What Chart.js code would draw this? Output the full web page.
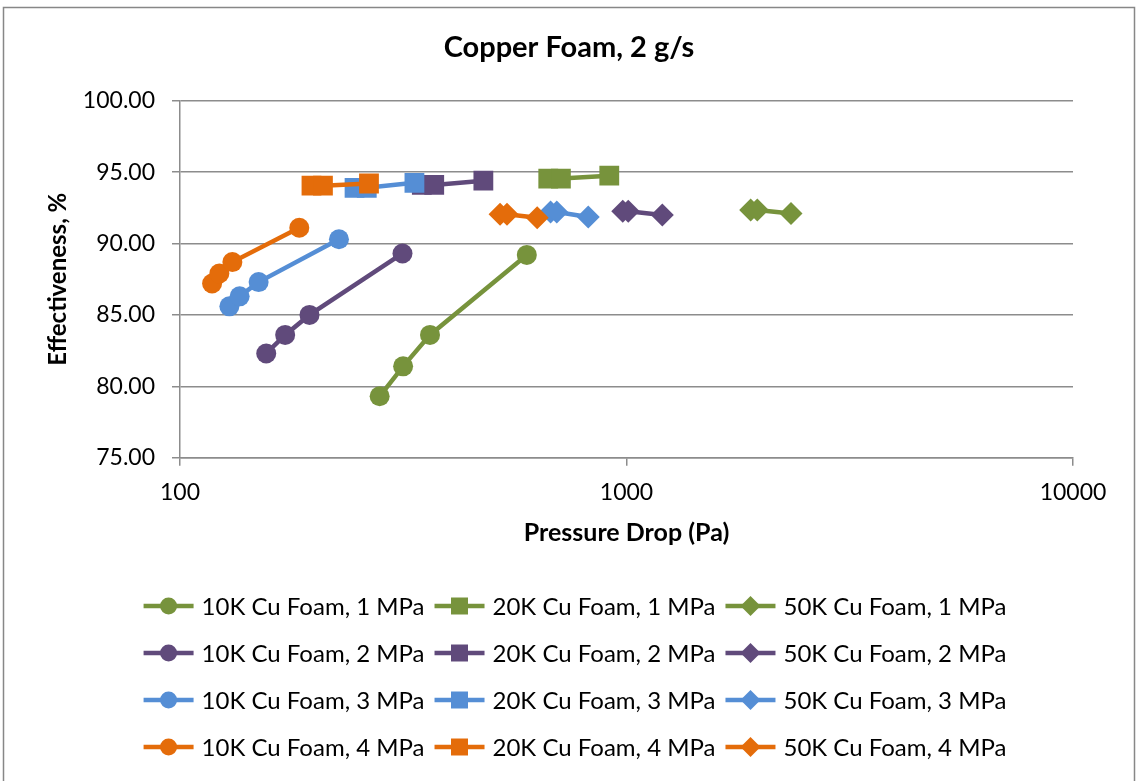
<!DOCTYPE html>
<html>
<head>
<meta charset="utf-8">
<script src="https://cdn.jsdelivr.net/npm/chart.js@4.4.1/dist/chart.umd.min.js"></script>
<style>
  html, body { margin: 0; padding: 0; background: #fff; }
  canvas { display: block; }
</style>
</head>
<body>
<canvas id="chart" width="1138" height="781"></canvas>
<script>
// ---- Text ----
const chartTitle = 'Copper Foam, 2 g/s';
const xAxisTitle = 'Pressure Drop (Pa)';
const yAxisTitle = 'Effectiveness, %';

// ---- Tick labels ----
const xTickValues = [100, 1000, 10000];
const yTickValues = [75, 80, 85, 90, 95, 100];

// ---- Categories ----
const foamGrades = ['10K Cu Foam', '20K Cu Foam', '50K Cu Foam'];
const pressures = ['1 MPa', '2 MPa', '3 MPa', '4 MPa'];

// ---- Measurements: pressure drop (Pa) and effectiveness (%) ----
const dp_10K_1MPa  = [280, 316, 363, 598];
const eff_10K_1MPa = [79.3, 81.4, 83.6, 89.2];
const dp_20K_1MPa  = [668, 713, 915];
const eff_20K_1MPa = [94.55, 94.55, 94.75];
const dp_50K_1MPa  = [1897, 1963, 2336];
const eff_50K_1MPa = [92.35, 92.35, 92.1];

const dp_10K_2MPa  = [156, 172, 195, 315];
const eff_10K_2MPa = [82.3, 83.6, 85.0, 89.3];
const dp_20K_2MPa  = [348, 371, 478];
const eff_20K_2MPa = [94.1, 94.1, 94.4];
const dp_50K_2MPa  = [981, 1009, 1203];
const eff_50K_2MPa = [92.25, 92.25, 92.0];

const dp_10K_3MPa  = [129, 136, 150, 227];
const eff_10K_3MPa = [85.6, 86.3, 87.3, 90.3];
const dp_20K_3MPa  = [246, 262, 335];
const eff_20K_3MPa = [93.9, 93.9, 94.25];
const dp_50K_3MPa  = [676, 698, 821];
const eff_50K_3MPa = [92.2, 92.2, 91.86];

const dp_10K_4MPa  = [118, 122.5, 131, 185];
const eff_10K_4MPa = [87.2, 87.9, 88.7, 91.1];
const dp_20K_4MPa  = [197, 209, 265];
const eff_20K_4MPa = [94.05, 94.05, 94.2];
const dp_50K_4MPa  = [521, 540, 631];
const eff_50K_4MPa = [92.05, 92.05, 91.8];

// series table: [pressure index, foam index, x values, y values]
const seriesTable = [
  [0, 0, dp_10K_1MPa, eff_10K_1MPa], [0, 1, dp_20K_1MPa, eff_20K_1MPa], [0, 2, dp_50K_1MPa, eff_50K_1MPa],
  [1, 0, dp_10K_2MPa, eff_10K_2MPa], [1, 1, dp_20K_2MPa, eff_20K_2MPa], [1, 2, dp_50K_2MPa, eff_50K_2MPa],
  [2, 0, dp_10K_3MPa, eff_10K_3MPa], [2, 1, dp_20K_3MPa, eff_20K_3MPa], [2, 2, dp_50K_3MPa, eff_50K_3MPa],
  [3, 0, dp_10K_4MPa, eff_10K_4MPa], [3, 1, dp_20K_4MPa, eff_20K_4MPa], [3, 2, dp_50K_4MPa, eff_50K_4MPa]
];

// ---- Styling ----
const pressureColors = ['#77933C', '#604A7B', '#558ED5', '#E46C0A'];
const foamMarkers = ['circle', 'rect', 'rectRot'];
const foamMarkerRadius = [10, 14, 11.5];
const FONT = 'Lato, "Open Sans", "DejaVu Sans", sans-serif';
const GRID = '#8c8c8c';

const datasets = seriesTable.map(([p, f, xs, ys], i) => ({
  label: foamGrades[f] + ', ' + pressures[p],
  data: xs.map((x, k) => ({ x: x, y: ys[k] })),
  showLine: true,
  borderColor: pressureColors[p],
  backgroundColor: pressureColors[p],
  borderWidth: 4.5,
  pointStyle: foamMarkers[f],
  pointRadius: foamMarkerRadius[f],
  pointBorderWidth: 0,
  pointBackgroundColor: pressureColors[p],
  order: seriesTable.length - i
}));

// outer frame of the chart
const framePlugin = {
  id: 'frame',
  beforeDraw(chart) {
    const c = chart.ctx;
    c.save();
    c.fillStyle = '#fff';
    c.fillRect(0, 0, chart.width, chart.height);
    c.strokeStyle = '#878787';
    c.lineWidth = 1.5;
    c.strokeRect(3.5, 7.5, chart.width - 7, chart.height + 20);
    c.restore();
  }
};

// legend with line + marker samples, three entries per row
const legendPlugin = {
  id: 'lineMarkerLegend',
  afterDraw(chart) {
    const c = chart.ctx;
    const sets = chart.data.datasets;
    const perRow = 3, lineLen = 50, textGap = 8, itemGap = 10, rowStep = 47;
    const firstRowY = chart.height - 175;
    c.save();
    c.font = '24px ' + FONT;
    c.textBaseline = 'middle';
    c.textAlign = 'left';
    for (let r = 0; r * perRow < sets.length; r++) {
      const row = sets.slice(r * perRow, r * perRow + perRow);
      const widths = row.map(d => lineLen + textGap + c.measureText(d.label).width);
      const total = widths.reduce((a, b) => a + b, 0) + itemGap * (row.length - 1);
      let x = (chart.width - total) / 2 + 6;
      const y = firstRowY + r * rowStep;
      row.forEach((d, k) => {
        c.strokeStyle = d.borderColor;
        c.fillStyle = d.borderColor;
        c.lineWidth = 4.5;
        c.beginPath();
        c.moveTo(x, y);
        c.lineTo(x + lineLen, y);
        c.stroke();
        const cx = x + lineLen / 2;
        c.beginPath();
        if (d.pointStyle === 'circle') {
          c.arc(cx, y, 8.5, 0, Math.PI * 2);
        } else if (d.pointStyle === 'rect') {
          c.rect(cx - 8.5, y - 8.5, 17, 17);
        } else {
          c.moveTo(cx, y - 10); c.lineTo(cx + 10, y); c.lineTo(cx, y + 10); c.lineTo(cx - 10, y); c.closePath();
        }
        c.fill();
        c.fillStyle = '#000';
        c.fillText(d.label, x + lineLen + textGap, y + 1);
        x += widths[k] + itemGap;
      });
    }
    c.restore();
  }
};

new Chart(document.getElementById('chart'), {
  type: 'scatter',
  data: { datasets: datasets },
  options: {
    responsive: false,
    animation: false,
    devicePixelRatio: 1,
    layout: { padding: { left: 0, top: 0, right: 0, bottom: 223.3 } },
    plugins: {
      legend: { display: false },
      tooltip: { enabled: false },
      title: {
        display: true,
        text: chartTitle,
        color: '#000',
        font: { family: FONT, size: 29, weight: 'bold', lineHeight: 1.2 },
        padding: { top: 30.6, bottom: 35.3 }
      }
    },
    scales: {
      x: {
        type: 'logarithmic',
        min: 100,
        max: 10000,
        afterBuildTicks(scale) { scale.ticks = xTickValues.map(v => ({ value: v })); },
        afterFit(scale) { scale.height = 100; },
        ticks: {
          color: '#000',
          font: { family: FONT, size: 23 },
          padding: 13,
          autoSkip: false,
          maxRotation: 0,
          callback: v => String(v)
        },
        grid: { display: true, drawOnChartArea: false, drawTicks: true, tickLength: 8, color: GRID, lineWidth: 1.5 },
        border: { display: true, color: GRID, width: 1.5 },
        title: {
          display: true,
          text: xAxisTitle,
          color: '#000',
          font: { family: FONT, size: 25, weight: 'bold', lineHeight: 1.2 },
          padding: { top: 0, bottom: 9.7 }
        }
      },
      y: {
        min: 75,
        max: 100,
        afterBuildTicks(scale) { scale.ticks = yTickValues.map(v => ({ value: v })); },
        afterFit(scale) { scale.width = 180; },
        ticks: {
          color: '#000',
          font: { family: FONT, size: 23 },
          padding: 17,
          callback: v => Number(v).toFixed(2)
        },
        grid: { color: GRID, lineWidth: 1.5, tickLength: 8 },
        border: { display: true, color: GRID, width: 1.5 },
        title: {
          display: true,
          text: yAxisTitle,
          color: '#000',
          font: { family: FONT, size: 24, weight: 'bold', lineHeight: 1.2 },
          padding: { top: 43.6, bottom: 0 }
        }
      },
      // empty margin on the right so the plot ends at 10000 with space to spare
      yRight: {
        position: 'right',
        min: 75,
        max: 100,
        afterFit(scale) { scale.width = 65; },
        ticks: { display: false },
        grid: { display: false, drawTicks: false },
        border: { display: false },
        title: { display: false }
      }
    }
  },
  plugins: [framePlugin, legendPlugin]
});
</script>
</body>
</html>
